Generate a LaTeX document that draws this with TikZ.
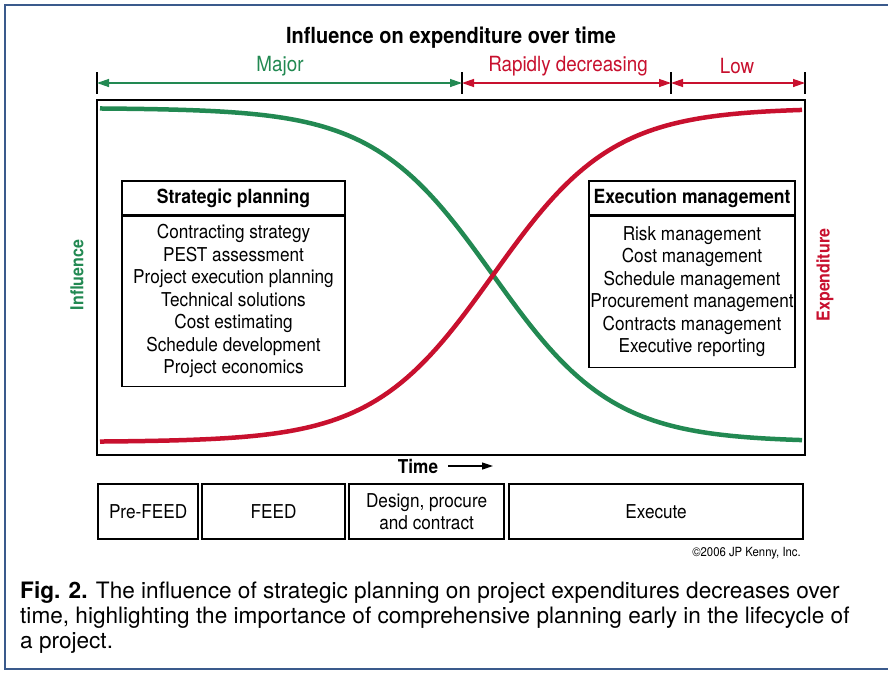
\documentclass[tikz,border=0pt]{standalone}
\usepackage{fontspec}
\setmainfont{TeX Gyre Heros}[FakeStretch=0.9]
\newfontfamily\capfont{TeX Gyre Heros}
\usetikzlibrary{arrows.meta,positioning}
\definecolor{infgreen}{RGB}{34,137,82}
\definecolor{expred}{RGB}{200,16,46}
\definecolor{frameblue}{RGB}{58,90,140}

\begin{document}
\begin{tikzpicture}[x=1pt, y=-1pt,
    every node/.style={inner sep=0pt, font=\fontsize{19.1}{22.5}\selectfont},
    phase/.style={draw, line width=2.2pt, minimum height=55pt, align=center, anchor=north west},
    headbox/.style={draw, fill=white, line width=1.2pt, minimum height=34pt, font=\fontsize{19.5}{22.5}\selectfont\bfseries},
    bodybox/.style={draw, fill=white, line width=1.2pt, align=center, anchor=north},
    span/.style={line width=1.3pt, {Triangle[length=12pt,width=8pt]}-{Triangle[length=12pt,width=8pt]}},
    spanlabel/.style={font=\fontsize{20.9}{24}\selectfont},
    axislabel/.style={rotate=90, font=\fontsize{17.8}{22}\selectfont\bfseries}]
    \useasboundingbox (0,0) rectangle (888,673);
    \fill[white] (0,0) rectangle (888,673);

    % 外枠
    \draw[frameblue, line width=2.6pt] (890,5) -- (5,5) -- (5,669) -- (890,669);

    % タイトル
    \node (title) at (451,38) {\fontsize{22.2}{26}\selectfont\bfseries Influence on expenditure over time};

    % 区間の矢印
    \coordinate (t0) at (97,83);
    \coordinate (t1) at (462,83);
    \coordinate (t2) at (671,83);
    \coordinate (t3) at (805,83);
    \foreach \t in {t0,t1,t2,t3}
        \draw[line width=1.3pt] ([yshift=11pt]\t) -- ([yshift=-11pt]\t);
    \draw[span, infgreen] (t0) -- (t1);
    \draw[span, expred] (t1) -- (t2);
    \draw[span, expred] (t2) -- (t3);
    \node[spanlabel, infgreen] (major) at (280,66) {Major};
    \node[spanlabel, expred] (rapid) at (568,66) {Rapidly decreasing};
    \node[spanlabel, expred] (low) at (737,66) {Low};

    % グラフの枠
    \draw[line width=2.6pt] (97,100) rectangle (805,455);

    % 影響と支出の曲線
    \draw[infgreen, line width=4.5pt] plot[domain=100:802, samples=120]
        (\x, {108+334/(1+exp((493-\x)/60))});
    \draw[expred, line width=4.5pt] plot[domain=100:802, samples=120]
        (\x, {442-334/(1+exp((493-\x)/60))});

    % 縦軸のラベル
    \node[axislabel, infgreen] (infl) at (77,275) {Influence};
    \node[axislabel, expred] (expend) at (825,275) {Expenditure};

    % Strategic planning
    \node[headbox, minimum width=223pt] (sphead) at (233.5,198) {Strategic planning};
    \node[bodybox, minimum width=223pt, minimum height=170pt] (spbody) at (sphead.south)
        {Contracting strategy\\ PEST assessment\\ Project execution planning\\ Technical solutions\\
         Cost estimating\\ Schedule development\\ Project economics};

    % Execution management
    \node[headbox, minimum width=206pt] (emhead) at (692,198) {Execution management};
    \node[bodybox, minimum width=206pt, minimum height=151pt] (embody) at (emhead.south)
        {Risk management\\ Cost management\\ Schedule management\\ Procurement management\\
         Contracts management\\ Executive reporting};

    % 時間軸
    \node (time) at (418,466) {\bfseries Time};
    \coordinate (tend) at (493,466);
    \draw[line width=1.2pt, -{Triangle[length=11pt,width=7pt]}] ([xshift=10pt]time.east) -- (tend);

    % フェーズ
    \node[phase, minimum width=100pt] (prefeed) at (97,483) {Pre-FEED};
    \node[phase, minimum width=143pt] (feed) at (201,483) {FEED};
    \node[phase, minimum width=155pt] (design) at (348,483) {Design, procure\\ and contract};
    \node[phase, minimum width=294pt] (execute) at (508,483) {Execute};

    \node[anchor=east, font=\fontsize{12.6}{14}\selectfont] (copy) at (801,553) {\textcopyright2006 JP Kenny, Inc.};

    % キャプション
    \node[anchor=north west, align=left, font=\capfont\fontsize{22.6}{25.2}\selectfont] (caption) at (20,581)
        {\textbf{Fig. 2.} The influence of strategic planning on project expenditures decreases over\\
         time, highlighting the importance of comprehensive planning early in the lifecycle of\\
         a project.};
\end{tikzpicture}
\end{document}
